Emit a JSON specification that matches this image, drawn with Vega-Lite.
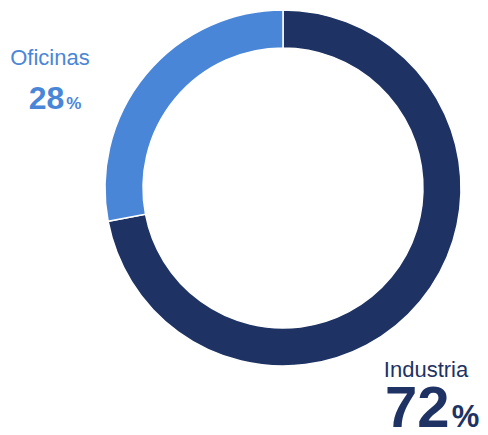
{
  "$schema": "https://vega.github.io/schema/vega-lite/v6.json",
  "width": 410,
  "height": 376,
  "autosize": {"type": "none"},
  "padding": {"left": 78, "top": 0, "right": 0, "bottom": 59},
  "background": "white",
  "view": {"stroke": null},
  "data": {
    "values": [
      {"category": "Industria", "value": 72},
      {"category": "Oficinas", "value": 28}
    ]
  },
  "encoding": {
    "theta": {"field": "value", "type": "quantitative", "stack": true},
    "color": {
      "field": "category",
      "type": "nominal",
      "scale": {"domain": ["Industria", "Oficinas"], "range": ["#1e3263", "#4a86d8"]},
      "legend": null
    }
  },
  "resolve": {"scale": {"size": "independent"}},
  "layer": [
    {
      "mark": {"type": "arc", "outerRadius": 178, "innerRadius": 140, "stroke": "white", "strokeWidth": 1.5}
    },
    {
      "mark": {"type": "text", "radius": 244, "dx": -45, "dy": 33, "align": "center", "baseline": "alphabetic", "fontSize": 22, "font": "Liberation Sans"},
      "encoding": {"text": {"field": "category"}}
    },
    {
      "mark": {"type": "text", "radius": 250, "dx": -26, "dy": 80, "align": "right", "baseline": "alphabetic", "fontWeight": "bold", "font": "Liberation Sans"},
      "encoding": {
        "text": {"field": "value", "type": "quantitative"},
        "size": {"field": "category", "type": "ordinal", "scale": {"domain": ["Industria", "Oficinas"], "range": [58, 32]}, "legend": null}
      }
    },
    {
      "mark": {"type": "text", "text": "%", "radius": 250, "dx": -24, "dy": 80, "align": "left", "baseline": "alphabetic", "fontWeight": "bold", "font": "Liberation Sans"},
      "encoding": {
        "size": {"field": "category", "type": "ordinal", "scale": {"domain": ["Industria", "Oficinas"], "range": [31, 17]}, "legend": null}
      }
    }
  ]
}
